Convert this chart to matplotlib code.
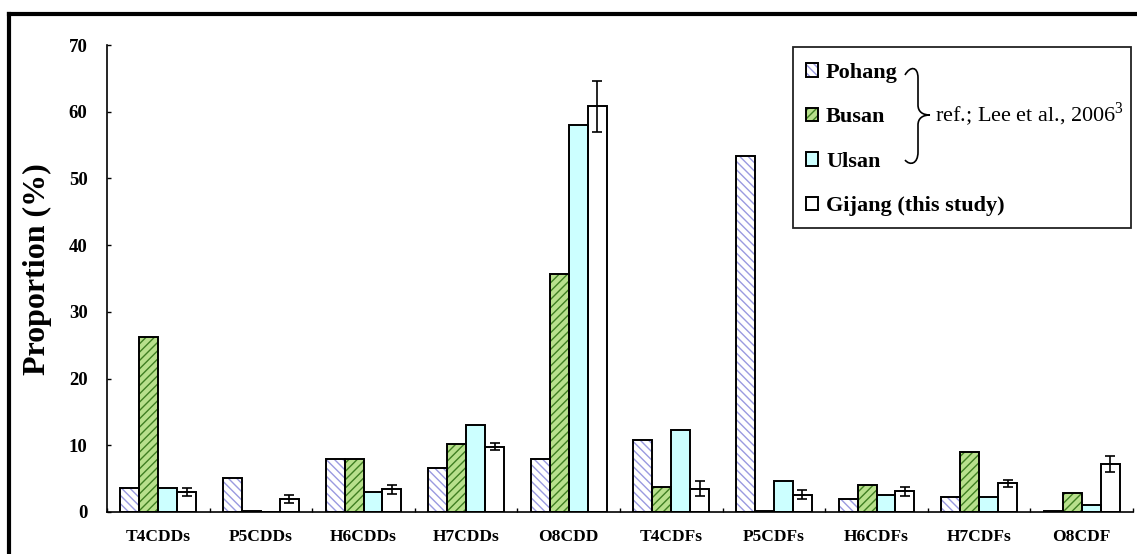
import numpy as np
import matplotlib
matplotlib.use("Agg")
import matplotlib.pyplot as plt
from matplotlib.patches import Rectangle, PathPatch
from matplotlib.path import Path
from matplotlib.lines import Line2D

categories = ["T4CDDs", "P5CDDs", "H6CDDs", "H7CDDs", "O8CDD",
              "T4CDFs", "P5CDFs", "H6CDFs", "H7CDFs", "O8CDF"]
pohang = [3.6, 5.1, 7.9, 6.6, 8.0, 10.8, 53.4, 2.0, 2.3, 0.15]
busan = [26.2, 0.15, 7.9, 10.2, 35.6, 3.8, 0.15, 4.1, 9.0, 2.8]
ulsan = [3.6, 0.0, 3.0, 13.0, 58.0, 12.3, 4.6, 2.6, 2.3, 1.0]
gijang = [3.0, 2.0, 3.4, 9.8, 60.8, 3.5, 2.6, 3.1, 4.3, 7.2]
gijang_err = [0.6, 0.6, 0.7, 0.5, 3.8, 1.1, 0.7, 0.7, 0.5, 1.2]

labels = ["Pohang", "Busan", "Ulsan", "Gijang (this study)"]
faces = ["white", "#b8e08c", "#ccffff", "white"]
hatch_cols = ["#9a9ae0", "#3f7f22", "#ccffff", "white"]
hatches = ["\\\\\\\\", "////", None, None]

plt.rcParams["font.family"] = ["Liberation Serif", "DejaVu Serif"]
plt.rcParams["mathtext.fontset"] = "custom"
plt.rcParams["mathtext.rm"] = "Liberation Serif"
plt.rcParams["hatch.linewidth"] = 1.0

W, H = 1137, 554
fig = plt.figure(figsize=(W / 100, H / 100), dpi=100)


def fx(x):
    return x / W


def fy(y):
    return 1 - y / H


ax = fig.add_axes([fx(107), fy(512), fx(1133) - fx(107), fy(45) - fy(512)])

x = np.arange(len(categories))
w = 0.185
series = [pohang, busan, ulsan, gijang]
handles = []
for i, vals in enumerate(series):
    pos = x + (i - 1.5) * w
    hb = ax.bar(pos, vals, w, color=faces[i], edgecolor=hatch_cols[i],
                hatch=hatches[i], linewidth=0, zorder=2)
    eb = ax.bar(pos, vals, w, fill=False, edgecolor="black", linewidth=1.4, zorder=3)
    handles.append((hb[0], eb[0]))

ax.errorbar(x + 1.5 * w, gijang, yerr=gijang_err, fmt="none", ecolor="black",
            elinewidth=1.2, capsize=3.6, capthick=1.2, zorder=4)

ax.set_xlim(-0.5, len(categories) - 0.5)
ax.set_ylim(0, 70)
ax.set_yticks(range(0, 71, 10))
ax.set_xticks(x)
ax.set_xticklabels(categories, fontweight="bold", fontsize=12.5)
ax.set_xticks(np.arange(-0.5, len(categories)), minor=True)
ax.tick_params(axis="x", which="major", length=0, pad=12)
ax.tick_params(axis="x", which="minor", direction="in", length=3, width=1)
ax.tick_params(axis="y", direction="in", length=3, width=1, pad=14, labelsize=13.5)
for t in ax.get_yticklabels():
    t.set_fontweight("bold")
for s in ["top", "right"]:
    ax.spines[s].set_visible(False)
ax.spines["left"].set_linewidth(1.2)
ax.spines["bottom"].set_linewidth(1.2)
ax.set_ylabel("Proportion (%)", fontsize=23, fontweight="bold")
ax.yaxis.set_label_coords((52 - 107) / 1026, (512 - 269) / 467)

# legend
fig.add_artist(Rectangle((fx(793), fy(228)), fx(1131) - fx(793), fy(47) - fy(228),
                         transform=fig.transFigure, fill=False, edgecolor="#222222",
                         linewidth=1.3))
leg = fig.legend(handles, labels, loc="upper left",
                 bbox_to_anchor=(fx(806), fy(63)), frameon=False,
                 prop={"weight": "bold", "size": 16}, borderpad=0,
                 handlelength=0.55, handleheight=0.55, handletextpad=0.35,
                 labelspacing=1.1, borderaxespad=0)

verts = [(905, 75), (910, 66), (918, 66), (918, 78),
         (918, 105),
         (918, 112), (923, 115), (930, 115),
         (923, 115), (918, 118), (918, 125),
         (918, 152),
         (918, 164), (910, 166), (905, 160)]
codes = [Path.MOVETO, Path.CURVE4, Path.CURVE4, Path.CURVE4,
         Path.LINETO,
         Path.CURVE4, Path.CURVE4, Path.CURVE4,
         Path.CURVE4, Path.CURVE4, Path.CURVE4,
         Path.LINETO,
         Path.CURVE4, Path.CURVE4, Path.CURVE4]
brace = Path([(fx(a), fy(b)) for a, b in verts], codes)
fig.add_artist(PathPatch(brace, transform=fig.transFigure, fill=False,
                         edgecolor="black", linewidth=1.2))
fig.text(fx(935), fy(115), r"ref.; Lee et al., 2006$^{\mathrm{3}}$", fontsize=16,
         va="center", ha="left")

# outer frame
fig.add_artist(Line2D([fx(9), fx(1140)], [fy(14), fy(14)], transform=fig.transFigure,
                      color="black", linewidth=3))
fig.add_artist(Line2D([fx(9), fx(9)], [fy(14), fy(560)], transform=fig.transFigure,
                      color="black", linewidth=3))

fig.savefig("out.png", dpi=100)
